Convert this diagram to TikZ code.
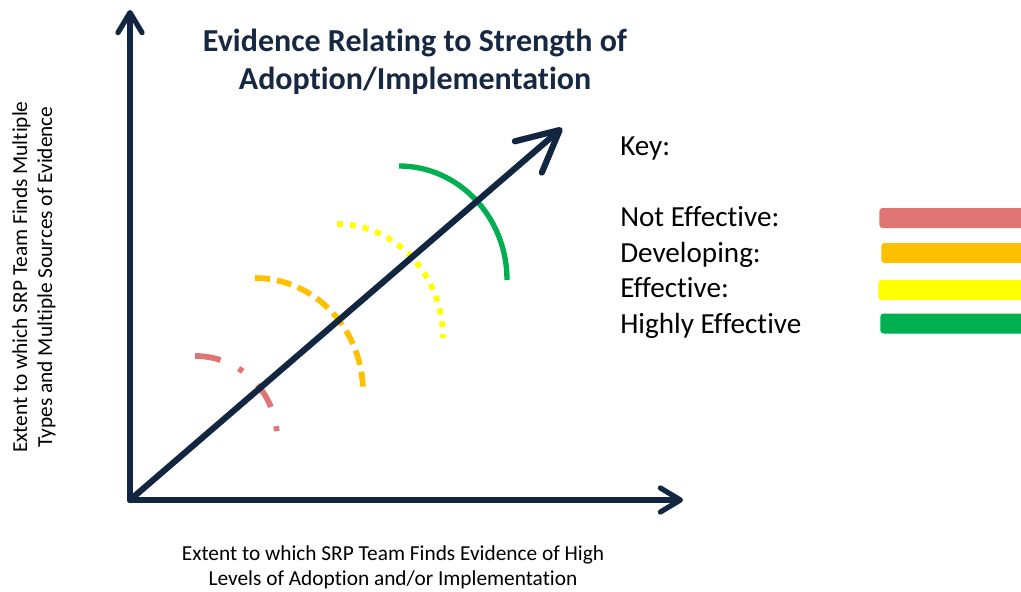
\documentclass[tikz,border=0pt]{standalone}
\usepackage{fontspec}
\setmainfont{Carlito}[Ligatures={NoCommon}]
\usetikzlibrary{arrows.meta}
\definecolor{navy}{RGB}{18,38,66}
\definecolor{titlenavy}{RGB}{22,40,66}
\definecolor{keyred}{RGB}{224,117,117}
\definecolor{keyorange}{RGB}{255,192,0}
\definecolor{keyyellow}{RGB}{255,255,0}
\definecolor{keygreen}{RGB}{0,176,80}
\begin{document}
\begin{tikzpicture}[x=0.75pt,y=-0.75pt,
  axisline/.style={draw=navy, line width=3.9pt, line cap=round,
    -{Straight Barb[length=15pt,width=18pt,line cap=round,line join=round]}},
  diagline/.style={draw=navy, line width=4.6pt, line cap=round,
    -{Straight Barb[length=31pt,width=31pt,line cap=round,line join=round]}},
  shadowed/.style={draw=black!30, opacity=0.35},
  arcline/.style={line width=4.3pt, line cap=butt},
  keylabel/.style={anchor=base west, inner sep=0pt, font=\fontsize{21.85pt}{26.8pt}\selectfont},
  keybar/.style={anchor=west, draw=none, rounded corners=2.5pt, minimum width=113.25pt, minimum height=15pt, inner sep=0pt},
  axislabel/.style={align=center, inner sep=0pt, font=\fontsize{16pt}{18.75pt}\selectfont}
]
\useasboundingbox (0,0) rectangle (1021,592);

\coordinate (O) at (130,500);
\coordinate (Ytip) at (130,10);
\coordinate (Xtip) at (683,500);
\coordinate (Dtip) at (562,128);

% shadows
\begin{scope}[shift={(3,3)}]
\draw[axisline, shadowed] (O) -- (Ytip);
\draw[axisline, shadowed] (O) -- (Xtip);
\draw[diagline, shadowed] (O) -- (Dtip);
\end{scope}

% rating arcs
\draw[arcline, draw=keyred, dash pattern=on 19.5pt off 15pt on 3.75pt off 15pt]
  (195,356) arc[start angle=-90, end angle=0, radius=82];
\draw[arcline, draw=keyorange, dash pattern=on 11.25pt off 5.25pt]
  (255,278) arc[start angle=-90, end angle=0, x radius=108, y radius=114];
\draw[arcline, draw=keyyellow, dash pattern=on 4.5pt off 5.25pt]
  (337,224) arc[start angle=-90, end angle=0, x radius=106, y radius=114];
\draw[arcline, draw=keygreen, line width=4pt]
  (399,166) arc[start angle=-90, end angle=0, x radius=108, y radius=114];

% axes
\draw[axisline] (O) -- (Ytip);
\draw[axisline] (O) -- (Xtip);
\draw[diagline] (O) -- (Dtip);

% title
\node[align=center, inner sep=0pt, text=titlenavy,
  font=\fontsize{24pt}{28.5pt}\selectfont\bfseries] (title) at (415,62)
  {Evidence Relating to Strength of\\Adoption/Implementation};

% axis labels
\node[axislabel] (xlabel) at (393,567)
  {Extent to which SRP Team Finds Evidence of High\\Levels of Adoption and/or Implementation};
\node[axislabel, rotate=90] (ylabel) at (34,277)
  {Extent to which SRP Team Finds Multiple\\Types and Multiple Sources of Evidence};

% key
\node[keylabel] (keyhead) at (620,155) {Key:};
\node[keylabel] (kNE) at (620,226) {Not Effective:};
\node[keylabel] (kDev) at (620,262) {Developing:};
\node[keylabel] (kEff) at (620,297) {Effective:};
\node[keylabel] (kHE) at (620,333) {Highly Effective};
\node[keybar, fill=keyred] (bNE) at (879,218) {};
\node[keybar, fill=keyorange] (bDev) at (881,253) {};
\node[keybar, fill=keyyellow] (bEff) at (878,290) {};
\node[keybar, fill=keygreen] (bHE) at (880,323.5) {};
\end{tikzpicture}
\end{document}
